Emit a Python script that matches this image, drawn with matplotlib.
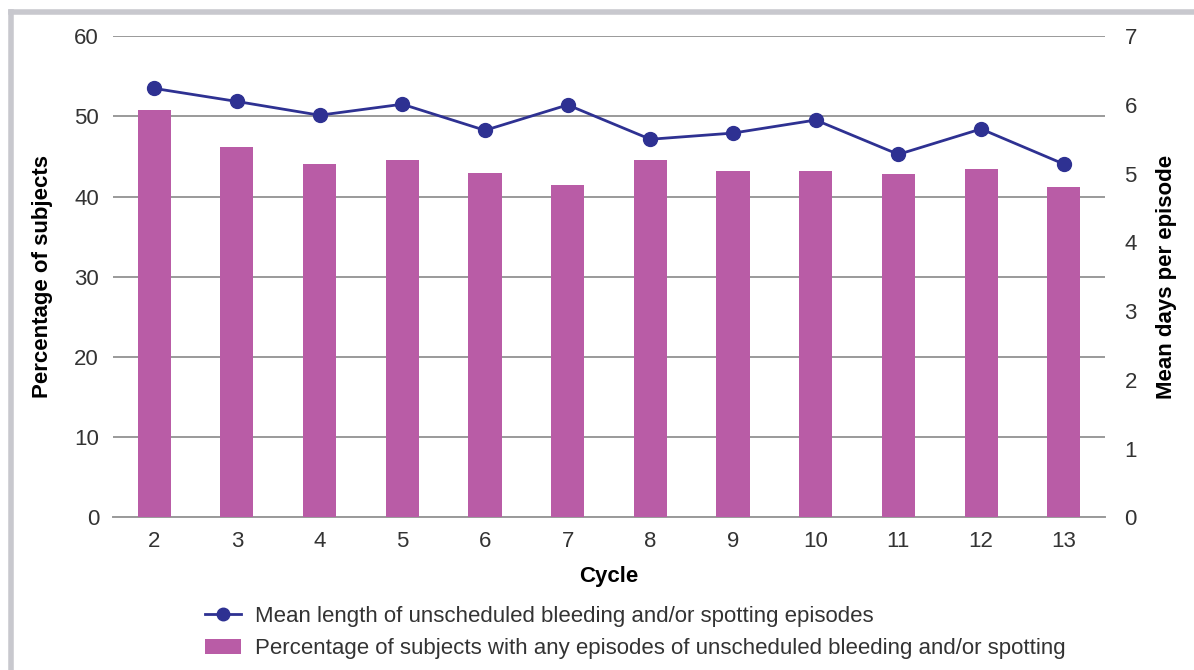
import matplotlib.pyplot as plt
import numpy as np
from matplotlib.lines import Line2D
from matplotlib.patches import Patch

plt.rcParams['font.family'] = ['Liberation Sans', 'DejaVu Sans']

cycles = ['2', '3', '4', '5', '6', '7', '8', '9', '10', '11', '12', '13']
pct_subjects = [50.8, 46.2, 44.0, 44.5, 42.9, 41.5, 44.5, 43.2, 43.2, 42.8, 43.4, 41.2]
mean_days = [6.24, 6.05, 5.85, 6.01, 5.63, 6.00, 5.50, 5.59, 5.78, 5.28, 5.65, 5.14]

bar_color = '#B95CA6'
line_color = '#2E3192'
grid_color = '#9A9A9A'
text_color = '#333333'
fs = 16

fig = plt.figure(figsize=(11.94, 6.70), dpi=100)
ax = fig.add_axes([0.0946, 0.228, 0.8309, 0.718])
x = np.arange(len(cycles))

ax.bar(x, pct_subjects, width=0.4, color=bar_color, zorder=3)
ax.set_xlim(-0.5, len(cycles) - 0.5)
ax.set_ylim(0, 60)
ax.set_yticks(range(0, 61, 10))
ax.set_xticks(x)
ax.set_xticklabels(cycles)
ax.yaxis.grid(True, color=grid_color, linewidth=1.4, zorder=0)
ax.set_axisbelow(True)
for s in ['top', 'right', 'left']:
    ax.spines[s].set_visible(False)
ax.spines['bottom'].set_color(grid_color)
ax.spines['bottom'].set_linewidth(1.4)
ax.tick_params(length=0, labelsize=fs, colors=text_color)
ax.tick_params(axis='x', pad=10)
ax.tick_params(axis='y', pad=10)
ax.set_xlabel('Cycle', fontsize=fs, fontweight='bold', labelpad=10)
ax.set_ylabel('Percentage of subjects', fontsize=fs, fontweight='bold', labelpad=15)

ax2 = ax.twinx()
ax2.plot(x, mean_days, color=line_color, linewidth=2, marker='o',
         markersize=10, markerfacecolor=line_color, markeredgecolor=line_color, zorder=4)
ax2.set_ylim(0, 7)
ax2.set_yticks(range(0, 8))
for s in ['top', 'right', 'left', 'bottom']:
    ax2.spines[s].set_visible(False)
ax2.tick_params(length=0, labelsize=fs, colors=text_color, pad=14)
ax2.set_ylabel('Mean days per episode', fontsize=fs, fontweight='bold', labelpad=14)

handles = [
    Line2D([0], [0], color=line_color, linewidth=2, marker='o', markersize=9),
    Patch(facecolor=bar_color),
]
labels = [
    'Mean length of unscheduled bleeding and/or spotting episodes',
    'Percentage of subjects with any episodes of unscheduled bleeding and/or spotting',
]
fig.legend(handles, labels, loc='upper left', bbox_to_anchor=(0.155, 0.125),
           frameon=False, fontsize=fs, handlelength=1.6, handletextpad=0.65,
           labelspacing=0.5, labelcolor=text_color)

# grey frame round the figure
border = '#C8C8CE'
fig.add_artist(Line2D([0.009, 1.0], [0.982, 0.982], color=border, linewidth=4))
fig.add_artist(Line2D([0.009, 0.009], [0.0, 0.982], color=border, linewidth=4))

fig.savefig('out.png', dpi=100)
